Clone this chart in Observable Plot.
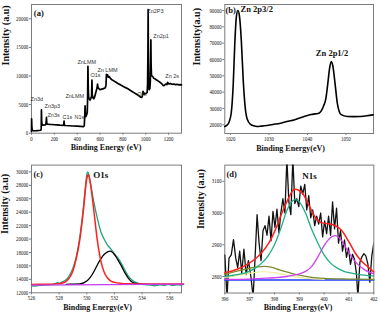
<!DOCTYPE html>
<html><head><meta charset="utf-8">
<script src="https://cdn.jsdelivr.net/npm/d3@7"></script>
<script src="https://cdn.jsdelivr.net/npm/@observablehq/plot@0.6"></script>
<style>
html,body{margin:0;padding:0;background:#fff;}
#fig{position:relative;width:380px;height:320px;overflow:hidden;background:#fff;}
#fig svg{position:absolute;}
</style></head><body><div id="fig"></div>
<script>
// ---------- (a) survey spectrum: [binding energy eV, counts]
const survey = [[0,300],[1,2500],[3,1200],[6,600],[10,480],[20,420],[35,430],[50,450],[65,470],[80,520],[85,700],[87,4100],[89,2200],[92,1500],[100,1400],[115,1450],[125,1500],[128,1900],[131,2750],[134,1700],[140,1600],[160,1550],[180,1520],[200,1480],[220,1450],[250,1400],[275,1380],[282,1500],[285,2100],[288,1380],[300,1350],[330,1300],[360,1260],[400,1220],[430,1180],[455,1150],[462,1300],[466,3000],[469,4800],[472,3200],[476,2900],[482,3200],[488,3600],[491,6000],[494,11700],[497,8000],[500,6400],[505,6000],[512,5800],[520,6100],[526,6500],[529,9300],[532,6700],[538,6200],[545,6000],[552,6300],[560,6900],[568,7500],[574,7900],[578,8600],[582,8000],[590,7800],[600,7600],[615,7700],[630,7800],[645,7900],[652,8400],[656,10300],[660,10000],[665,10200],[672,9800],[680,9900],[690,9600],[700,9400],[720,9150],[740,8900],[760,8650],[780,8450],[800,8200],[820,8000],[840,7800],[860,7550],[880,7300],[900,7050],[920,6800],[940,6550],[955,6300],[965,6250],[972,6600],[976,7300],[981,7100],[986,6800],[995,6900],[1005,7000],[1012,7100],[1016,8500],[1019,14000],[1021,21600],[1023,14000],[1026,8200],[1030,7600],[1036,7800],[1040,9000],[1043,13000],[1045,16300],[1047,12000],[1050,10200],[1055,10000],[1062,9900],[1070,9600],[1080,9500],[1095,9300],[1110,9100],[1125,8900],[1140,8650],[1155,8300],[1165,8400],[1175,8600],[1185,8500],[1192,8900],[1197,8700],[1205,8600],[1215,8700],[1230,8550],[1245,8600],[1260,8500],[1275,8550],[1290,8450],[1305,8500],[1313,8450]];
// survey peak labels: [text, eV, counts at top of label]
const surveyLabels = [["Zn3d",-8,6290],["Zn3p3",114,5140],["Zn3s",140,3500],["C1s",271,3220],["N1s",376,3220],["ZnLMM",297,6770],["ZnLMM",402,12710],["O1s",516,10490],["Zn LMM",577,11360],["OKl",926,7240],["Zn2P3",1014,21630],["Zn2p1",1066,17380],["Zn 2s",1171,10260]];
const ticksA_x = [0,200,400,600,800,1000,1200];
const ticksA_y = [0,5000,10000,15000,20000];

// ---------- (b) Zn 2p
const zn2p = [[1018.5,19000],[1019,19600],[1019.6,21600],[1020.2,27700],[1020.7,45100],[1021.1,69600],[1021.5,85900],[1021.9,90000],[1022.3,86900],[1022.8,71600],[1023.3,47100],[1023.8,30800],[1024.3,23700],[1025.2,20200],[1026,19400],[1026.9,19000],[1028,19200],[1029.5,19600],[1031,20200],[1033,21000],[1035,22200],[1036.5,23000],[1038,24200],[1040,25700],[1041,26300],[1042.1,26700],[1043,27100],[1043.6,28500],[1044.2,31500],[1044.8,36000],[1045.3,45100],[1045.8,55000],[1046.2,58800],[1046.6,56300],[1047.2,45100],[1047.8,32900],[1048.3,28000],[1048.8,26200],[1050.4,25100],[1052,25000],[1053.8,25100],[1055.5,25500],[1057.1,26100]];
const zn2pLabels = [["Zn 2p3/2",1022.6,92600],["Zn 2p1/2",1042.2,65900]];
const ticksB_x = [1020,1030,1040,1050];
const ticksB_y = [20000,30000,40000,50000,60000,70000,80000,90000];

// ---------- (c) O1s
const o1sData = [[526.0,13070],[526.2,12980],[526.4,13050],[526.6,13120],[526.8,13100],[527.0,13180],[527.2,13200],[527.4,13230],[527.6,13280],[527.8,13450],[527.9,13550],[528.0,13400],[528.2,13600],[528.4,13800],[528.6,14150],[528.8,14800],[529.0,15700],[529.25,17500],[529.5,20400],[529.75,24700],[529.9,27800],[530.0,29600],[530.05,30000],[530.15,29600],[530.25,28500],[530.5,25600],[530.75,23200],[531.0,21200],[531.25,20000],[531.5,19100],[531.75,18500],[532.0,17800],[532.25,17200],[532.5,16400],[532.75,15400],[533.0,14500],[533.25,13950],[533.5,13600],[533.75,13400],[534.0,13250],[534.3,13200],[534.6,13150],[534.9,13050],[535.1,13120],[535.3,13200],[535.6,13100],[535.9,13250],[536.2,13080],[536.5,13200],[536.8,13150],[537.0,13250]];
const o1sPeak1 = [[526.0,13250],[526.5,13255],[527,13265],[527.5,13290],[528,13350],[528.25,13450],[528.5,13700],[528.75,14250],[529,15300],[529.25,17200],[529.5,20000],[529.75,24200],[530.0,29000],[530.1,29600],[530.25,28400],[530.5,24400],[530.75,20000],[531.0,16900],[531.25,15100],[531.5,14200],[531.75,13750],[532,13550],[532.5,13400],[533,13350],[534,13320],[535,13320],[536,13320],[537,13320]];
const o1sPeak2 = [[528.5,13260],[529.0,13290],[529.5,13330],[530.0,13750],[530.25,14300],[530.5,15100],[530.75,16100],[531.0,17000],[531.25,17700],[531.5,18100],[531.7,18200],[532.0,17700],[532.25,16900],[532.5,16000],[532.75,15000],[533.0,14200],[533.25,13650],[533.5,13400],[534,13280],[534.5,13260]];
const o1sBackground = [[526,13150],[537,13300]];
const o1sLabel = [["O1s",530.46,30100]];
const ticksC_x = [526,528,530,532,534,536];
const ticksC_y = [12000,14000,16000,18000,20000,22000,24000,26000,28000,30000];

// ---------- (d) N1s
const n1sData = [[396.00,2868],[396.09,2735],[396.17,2858],[396.26,2868],[396.35,2916],[396.44,2858],[396.52,2828],[396.60,2880],[396.68,2812],[396.77,2886],[396.86,2806],[396.95,2850],[397.05,2800],[397.14,2735],[397.22,2860],[397.30,2995],[397.38,2905],[397.46,2850],[397.54,2945],[397.62,2960],[397.70,2930],[397.78,2990],[397.86,2912],[397.94,3005],[398.02,2955],[398.10,3012],[398.18,2938],[398.26,3002],[398.34,3045],[398.42,3000],[398.50,3170],[398.58,3035],[398.66,2995],[398.74,3170],[398.82,3030],[398.90,3045],[398.98,3020],[399.06,3085],[399.14,3060],[399.22,3090],[399.30,3010],[399.38,3055],[399.46,2985],[399.54,3010],[399.62,2960],[399.70,2990],[399.78,2965],[399.86,3000],[399.94,2925],[400.02,2975],[400.10,2935],[400.18,2990],[400.26,2930],[400.34,3035],[400.42,2950],[400.50,3015],[400.58,2905],[400.66,2945],[400.74,2880],[400.82,2915],[400.90,2860],[400.98,2890],[401.06,2838],[401.14,2870],[401.22,2855],[401.30,2810],[401.36,2735],[401.44,2845],[401.52,2862],[401.60,2872],[401.68,2865],[401.76,2840],[401.84,2782],[401.92,2865],[402.00,2905]];
const n1sEnvelope = [[396.0,2812],[396.5,2823],[397.0,2843],[397.4,2868],[397.8,2909],[398.05,2950],[398.3,3000],[398.6,3052],[398.8,3075],[399.0,3071],[399.15,3060],[399.4,3022],[399.65,2986],[399.9,2969],[400.2,2966],[400.45,2960],[400.7,2946],[401.0,2909],[401.25,2874],[401.5,2849],[401.8,2828],[402.0,2814]];
const n1sPeakMain = [[396.0,2800],[396.25,2803],[396.5,2806],[396.75,2810],[397.0,2817],[397.25,2828],[397.5,2843],[397.75,2866],[398.0,2900],[398.25,2950],[398.5,3008],[398.75,3040],[398.85,3042],[399.0,3035],[399.25,3000],[399.5,2948],[399.75,2905],[400.0,2868],[400.25,2843],[400.5,2828],[400.75,2818],[401.0,2812],[401.25,2808],[401.5,2805],[401.75,2803],[402.0,2802]];
const n1sPeakHigh = [[396.0,2791],[397.0,2792],[397.5,2794],[398.0,2796],[398.5,2800],[398.75,2804],[399.0,2808],[399.25,2816],[399.5,2832],[399.75,2862],[400.0,2897],[400.25,2922],[400.45,2929],[400.65,2918],[400.9,2888],[401.15,2857],[401.4,2835],[401.65,2820],[402.0,2808]];
const n1sPeakLow = [[396.0,2807],[396.5,2817],[397.0,2826],[397.3,2830],[397.6,2832],[397.9,2829],[398.2,2821],[398.6,2812],[399.0,2804],[399.5,2797],[400.0,2794],[401.0,2792],[402.0,2791]];
const n1sPeakFaint = [[396.0,2797],[396.5,2803],[397.0,2810],[397.5,2815],[398.0,2812],[398.5,2804],[399.0,2797],[399.5,2793],[400.0,2791]];
const n1sBackground = [[396,2789],[402,2789]];
const n1sLabel = [["N1s",399.12,3127]];
const ticksD_x = [396,397,398,399,400,401,402];
const ticksD_y = [2800,2900,3000,3100];

// ---------- drawing
const AX = "#7c7c7c";
const SERIF = "'Liberation Serif','Times New Roman',Times,serif";
const SANS = "'Liberation Sans',Arial,Helvetica,sans-serif";
const fig = document.getElementById("fig");
const squashJobs = [];

function panel(cfg) {
  const [ml, mr, mt, mb] = cfg.m;
  const svg = Plot.plot({
    width: 190, height: 160,
    marginLeft: ml, marginRight: mr, marginTop: mt, marginBottom: mb,
    x: {domain: cfg.xDomain, axis: null},
    y: {domain: cfg.yDomain, axis: null},
    style: {background: "transparent", fontFamily: SERIF, fontSize: "6.5px", color: "#111", overflow: "visible"},
    marks: [
      Plot.frame({stroke: AX, strokeWidth: 1}),
      ...cfg.marks,
      Plot.axisX(cfg.xTicks, {tickSize: 2, tickPadding: 1, stroke: AX, tickFormat: d3.format("d"), label: null}),
      Plot.axisY(cfg.yTicks, {tickSize: 2, tickPadding: 1.2, stroke: AX, tickFormat: d3.format("d"), label: null}),
      Plot.text([cfg.xLabel], {text: d => d, frameAnchor: "bottom", dx: cfg.xl[0], dy: cfg.xl[1], fontSize: 8, fontWeight: "bold", fontFamily: SERIF, fill: "#111", ariaLabel: "xlabel"}),
      Plot.text([cfg.yLabel], {text: d => d, frameAnchor: "left", rotate: -90, dx: cfg.yl[0], dy: cfg.yl[1], fontSize: 10, fontWeight: "bold", fontFamily: SERIF, fill: "#111"}),
      Plot.text([cfg.letter], {text: d => d, frameAnchor: "top-left", textAnchor: "start", lineAnchor: "top", dx: cfg.ll[0], dy: cfg.ll[1], fontSize: 8.5, fontWeight: "bold", fontFamily: SERIF, fill: "#111"})
    ]
  });
  svg.style.left = cfg.left + "px";
  svg.style.top = cfg.top + "px";
  fig.appendChild(svg);
  squashJobs.push([svg, 'g[aria-label="x-axis tick label"] text, g[aria-label="y-axis tick label"] text', 0.75]);
  squashJobs.push([svg, 'g[aria-label="xlabel"] text', -cfg.xlw]);
  return svg;
}

const svgA = panel({
  left: 0, top: 0, m: [31, 9, 4, 27.3],
  xDomain: [0, 1313], yDomain: [0, 22500], xTicks: ticksA_x, yTicks: ticksA_y,
  xLabel: "Binding Energy (eV)", xl: [-0.5, 17], xlw: 65,
  yLabel: "Intensity (a.u)", yl: [-26, -3.4],
  letter: "(a)", ll: [2.3, 5.3],
  marks: [
    Plot.line(survey, {stroke: "#000", strokeWidth: 1.7, strokeLinejoin: "round"}),
    Plot.text(surveyLabels, {x: d => d[1], y: d => d[2], text: d => d[0], textAnchor: "start", lineAnchor: "top", fontSize: 5.5, fontFamily: SANS, fill: "#333", ariaLabel: "ann"})
  ]
});
squashJobs.push([svgA, 'g[aria-label="ann"] text', 0.86]);

const svgB = panel({
  left: 190, top: 0, m: [34.3, 7, 4, 27],
  xDomain: [1018.5, 1057.2], yDomain: [14670, 93670], xTicks: ticksB_x, yTicks: ticksB_y,
  xLabel: "Binding Energy(eV)", xl: [-8.6, 17], xlw: 59,
  yLabel: "Intensity(a.u)", yl: [-27.6, -3.5],
  letter: "(b)", ll: [0.7, 2],
  marks: [
    Plot.line(zn2p, {stroke: "#000", strokeWidth: 1.6, curve: "monotone-x"}),
    Plot.text(zn2pLabels, {x: d => d[1], y: d => d[2], text: d => d[0], textAnchor: "start", lineAnchor: "top", fontSize: 8.5, fontWeight: "bold", fontFamily: SERIF, fill: "#111", ariaLabel: "peaklab"})
  ]
});
squashJobs.push([svgB, 'g[aria-label="peaklab"] text', -28.5]);

const svgC = panel({
  left: 0, top: 160, m: [31, 9, 4.6, 27.7],
  xDomain: [526, 536.85], yDomain: [12000, 31010], xTicks: ticksC_x, yTicks: ticksC_y,
  xLabel: "Binding Energy(eV)", xl: [-9, 17], xlw: 58,
  yLabel: "Intensity (a.u)", yl: [-26.3, 5],
  letter: "(c)", ll: [2, 5.8],
  marks: [
    Plot.line(o1sData, {stroke: "#1fa47c", strokeWidth: 1.3, curve: "monotone-x"}),
    Plot.line(o1sPeak2, {stroke: "#000", strokeWidth: 1.3, curve: "monotone-x"}),
    Plot.line(o1sPeak1, {stroke: "#ff1f1f", strokeWidth: 1.5, curve: "monotone-x"}),
    Plot.line(o1sBackground, {stroke: "#c23ef0", strokeWidth: 1.3}),
    Plot.text(o1sLabel, {x: d => d[1], y: d => d[2], text: d => d[0], textAnchor: "start", lineAnchor: "top", fontSize: 9, fontWeight: "bold", fontFamily: SERIF, fill: "#111", ariaLabel: "peaklab"})
  ]
});
squashJobs.push([svgC, 'g[aria-label="peaklab"] text', -11]);

const svgD = panel({
  left: 190, top: 160, m: [34.3, 6.7, 4.6, 27.5],
  xDomain: [396, 402], yDomain: [2748, 3151], xTicks: ticksD_x, yTicks: ticksD_y,
  xLabel: "Binding Energy(eV)", xl: [-1.3, 17], xlw: 61,
  yLabel: "Intensity (a.u)", yl: [-23.8, 0],
  letter: "(d)", ll: [1.7, 5.8],
  marks: [
    Plot.line(n1sData, {stroke: "#111", strokeWidth: 1.3, clip: true}),
    Plot.line(n1sBackground, {stroke: "#1e3cff", strokeWidth: 1.3}),
    Plot.line(n1sPeakFaint, {stroke: "#ecec9a", strokeWidth: 1.2, curve: "monotone-x"}),
    Plot.line(n1sPeakLow, {stroke: "#7d8b2e", strokeWidth: 1.3, curve: "monotone-x"}),
    Plot.line(n1sPeakHigh, {stroke: "#d13ff0", strokeWidth: 1.3, curve: "monotone-x"}),
    Plot.line(n1sPeakMain, {stroke: "#1fae83", strokeWidth: 1.3, curve: "monotone-x"}),
    Plot.line(n1sEnvelope, {stroke: "#ff1f1f", strokeWidth: 1.5, curve: "monotone-x"}),
    Plot.text(n1sLabel, {x: d => d[1], y: d => d[2], text: d => d[0], textAnchor: "start", lineAnchor: "top", fontSize: 9, fontWeight: "bold", fontFamily: SERIF, fill: "#111", ariaLabel: "peaklab"})
  ]
});
squashJobs.push([svgD, 'g[aria-label="peaklab"] text', -16.5]);

// condense horizontal texts like the (horizontally squeezed) original figure
for (const [svg, sel, f] of squashJobs) {
  svg.querySelectorAll(sel).forEach(t => {
    const w = t.getComputedTextLength();
    if (!(w > 0)) return;
    const target = f < 0 ? -f : w * f;
    t.setAttribute("textLength", target.toFixed(2));
    t.setAttribute("lengthAdjust", "spacingAndGlyphs");
  });
}
</script></body></html>
